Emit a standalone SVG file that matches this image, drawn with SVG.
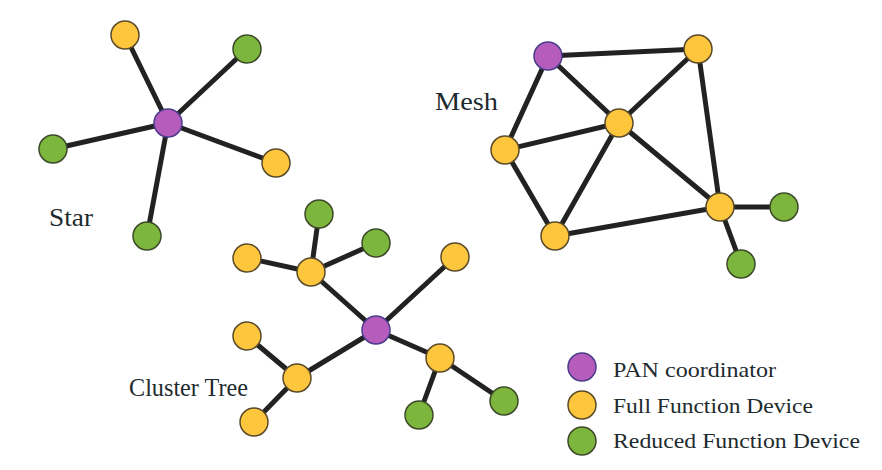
<svg xmlns="http://www.w3.org/2000/svg" width="882" height="470" viewBox="0 0 882 470">
<style>
.e{stroke:#222;stroke-width:5;stroke-linecap:round}
.pan{fill:#b65cbd;stroke:#4b3d8c;stroke-width:1.5}
.ffd{fill:#fec63c;stroke:#5a4a2a;stroke-width:1.5}
.rfd{fill:#7db63c;stroke:#3c4a2a;stroke-width:1.5}
.lbl{font-family:"Liberation Serif","Times New Roman",serif;fill:#1e2a2e;font-size:25px}
.leg{font-family:"Liberation Serif","Times New Roman",serif;fill:#1e2a2e;font-size:22px}
</style>
<rect width="882" height="470" fill="#fff"/>
<g id="connectors">
  <!-- star -->
  <line class="e" x1="168" y1="123" x2="125" y2="35"/>
  <line class="e" x1="168" y1="123" x2="247" y2="49"/>
  <line class="e" x1="168" y1="123" x2="53" y2="149"/>
  <line class="e" x1="168" y1="123" x2="276" y2="163"/>
  <line class="e" x1="168" y1="123" x2="147" y2="236"/>
  <!-- mesh -->
  <line class="e" x1="548" y1="56" x2="698" y2="49"/>
  <line class="e" x1="548" y1="56" x2="619" y2="123"/>
  <line class="e" x1="548" y1="56" x2="505" y2="150"/>
  <line class="e" x1="698" y1="49" x2="619" y2="123"/>
  <line class="e" x1="698" y1="49" x2="720" y2="207"/>
  <line class="e" x1="619" y1="123" x2="505" y2="150"/>
  <line class="e" x1="619" y1="123" x2="555" y2="236"/>
  <line class="e" x1="619" y1="123" x2="720" y2="207"/>
  <line class="e" x1="505" y1="150" x2="555" y2="236"/>
  <line class="e" x1="555" y1="236" x2="720" y2="207"/>
  <line class="e" x1="720" y1="207" x2="784" y2="207"/>
  <line class="e" x1="720" y1="207" x2="741" y2="264"/>
  <!-- cluster tree -->
  <line class="e" x1="376" y1="330" x2="311" y2="272"/>
  <line class="e" x1="376" y1="330" x2="455" y2="257"/>
  <line class="e" x1="376" y1="330" x2="297" y2="378"/>
  <line class="e" x1="376" y1="330" x2="440" y2="358"/>
  <line class="e" x1="311" y1="272" x2="319" y2="214"/>
  <line class="e" x1="311" y1="272" x2="376" y2="243"/>
  <line class="e" x1="311" y1="272" x2="247" y2="258"/>
  <line class="e" x1="297" y1="378" x2="247" y2="336"/>
  <line class="e" x1="297" y1="378" x2="254" y2="422"/>
  <line class="e" x1="440" y1="358" x2="419" y2="415"/>
  <line class="e" x1="440" y1="358" x2="504" y2="401"/>
</g>
<!-- star nodes -->
<g id="star-pan"><circle class="pan" cx="168" cy="123" r="14"/></g>
<g id="star-f1"><circle class="ffd" cx="125" cy="35" r="14"/></g>
<g id="star-r1"><circle class="rfd" cx="247" cy="49" r="14"/></g>
<g id="star-r2"><circle class="rfd" cx="53" cy="149" r="14"/></g>
<g id="star-f2"><circle class="ffd" cx="276" cy="163" r="14"/></g>
<g id="star-r3"><circle class="rfd" cx="147" cy="236" r="14"/></g>
<!-- mesh nodes -->
<g id="mesh-pan"><circle class="pan" cx="548" cy="56" r="14"/></g>
<g id="mesh-f1"><circle class="ffd" cx="698" cy="49" r="14"/></g>
<g id="mesh-f2"><circle class="ffd" cx="619" cy="123" r="14"/></g>
<g id="mesh-f3"><circle class="ffd" cx="505" cy="150" r="14"/></g>
<g id="mesh-f4"><circle class="ffd" cx="555" cy="236" r="14"/></g>
<g id="mesh-f5"><circle class="ffd" cx="720" cy="207" r="14"/></g>
<g id="mesh-r1"><circle class="rfd" cx="784" cy="207" r="14"/></g>
<g id="mesh-r2"><circle class="rfd" cx="741" cy="264" r="14"/></g>
<!-- cluster tree nodes -->
<g id="tree-pan"><circle class="pan" cx="376" cy="330" r="14"/></g>
<g id="tree-f1"><circle class="ffd" cx="311" cy="272" r="14"/></g>
<g id="tree-r1"><circle class="rfd" cx="319" cy="214" r="14"/></g>
<g id="tree-r2"><circle class="rfd" cx="376" cy="243" r="14"/></g>
<g id="tree-f2"><circle class="ffd" cx="247" cy="258" r="14"/></g>
<g id="tree-f3"><circle class="ffd" cx="455" cy="257" r="14"/></g>
<g id="tree-f4"><circle class="ffd" cx="297" cy="378" r="14"/></g>
<g id="tree-f5"><circle class="ffd" cx="247" cy="336" r="14"/></g>
<g id="tree-f6"><circle class="ffd" cx="254" cy="422" r="14"/></g>
<g id="tree-f7"><circle class="ffd" cx="440" cy="358" r="14"/></g>
<g id="tree-r3"><circle class="rfd" cx="419" cy="415" r="14"/></g>
<g id="tree-r4"><circle class="rfd" cx="504" cy="401" r="14"/></g>
<!-- labels -->
<text class="lbl" x="49" y="226" textLength="44" lengthAdjust="spacingAndGlyphs">Star</text>
<text class="lbl" x="435" y="110" textLength="63" lengthAdjust="spacingAndGlyphs">Mesh</text>
<text class="lbl" x="129" y="396" textLength="119" lengthAdjust="spacingAndGlyphs">Cluster Tree</text>
<!-- legend -->
<g id="legend">
  <circle class="pan" cx="582" cy="367" r="14"/>
  <circle class="ffd" cx="582" cy="405" r="14"/>
  <circle class="rfd" cx="582" cy="441" r="14"/>
  <text class="leg" x="613" y="377" textLength="163" lengthAdjust="spacingAndGlyphs">PAN coordinator</text>
  <text class="leg" x="613" y="413" textLength="200" lengthAdjust="spacingAndGlyphs">Full Function Device</text>
  <text class="leg" x="613" y="448" textLength="247" lengthAdjust="spacingAndGlyphs">Reduced Function Device</text>
</g>
</svg>
